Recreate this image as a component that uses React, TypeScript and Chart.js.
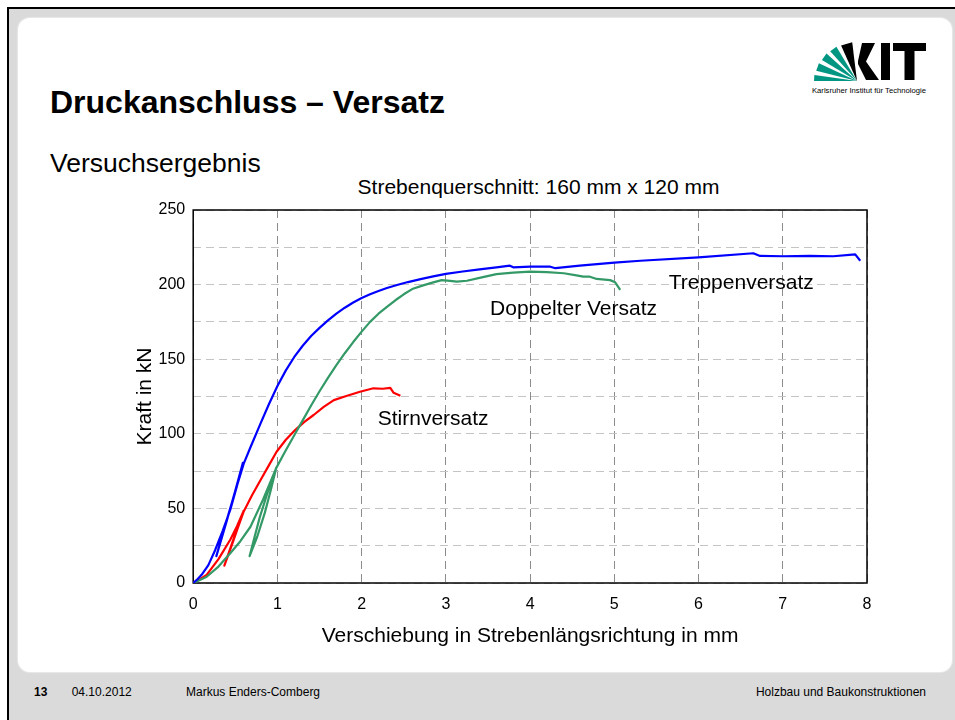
import React, { useEffect, useRef } from 'react';
import { Chart, registerables } from 'chart.js';

Chart.register(...registerables);

// ---------- data ----------
const treppenX = [0, 0.05, 0.1, 0.18, 0.26, 0.35, 0.44, 0.52, 0.59, 0.5, 0.4, 0.275, 0.35, 0.45, 0.53, 0.6, 0.68, 0.8, 0.9, 1.0, 1.1, 1.2, 1.3, 1.4, 1.5, 1.6, 1.7, 1.8, 1.9, 2.0, 2.1, 2.2, 2.3, 2.42, 2.55, 2.7, 2.85, 3.0, 3.2, 3.4, 3.6, 3.76, 3.8, 4.0, 4.24, 4.3, 4.59, 5.0, 5.31, 6.0, 6.65, 6.73, 7.0, 7.32, 7.6, 7.86, 7.92];
const treppenY = [0, 2.5, 5.5, 12, 22, 35, 49, 65, 80.5, 62, 42, 18, 33, 52, 67, 80, 91, 107, 120, 132, 142.5, 151.5, 159, 165.5, 171, 176, 180.5, 184.5, 188, 191, 193.5, 195.7, 197.7, 199.7, 201.7, 203.7, 205.5, 207.2, 208.8, 210.2, 211.6, 212.7, 211.6, 212, 212, 211, 212.7, 214.7, 216, 218.3, 221, 219.2, 219, 219.2, 219, 220.3, 216];

const stirnX = [0, 0.08, 0.16, 0.3, 0.44, 0.52, 0.6, 0.5, 0.37, 0.45, 0.53, 0.6, 0.7, 0.8, 0.9, 0.99, 1.1, 1.21, 1.32, 1.43, 1.55, 1.67, 1.8, 1.98, 2.14, 2.25, 2.34, 2.38, 2.42, 2.46];
const stirnY = [0, 2.5, 5.5, 16, 29, 38, 48.5, 33, 11.6, 24, 37, 48, 59, 69, 79, 88, 96, 102.5, 108, 112.6, 118, 122.6, 125, 128.2, 130.5, 130.2, 130.8, 127.5, 126.5, 125.5];

const doppelX = [0, 0.08, 0.16, 0.3, 0.44, 0.56, 0.68, 0.83, 0.985, 0.92, 0.85, 0.76, 0.67, 0.72, 0.79, 0.88, 0.985, 1.09, 1.2, 1.3, 1.4, 1.5, 1.6, 1.7, 1.8, 1.9, 2.0, 2.1, 2.2, 2.3, 2.4, 2.5, 2.6, 2.73, 2.85, 2.95, 3.05, 3.13, 3.25, 3.4, 3.6, 3.8, 4.0, 4.2, 4.4, 4.55, 4.63, 4.71, 4.79, 4.95, 5.01, 5.07];
const doppelY = [0, 2, 4.2, 11, 20, 28, 37.7, 56, 77, 62, 47, 31, 18, 29, 44, 60, 77, 88, 99, 109, 119, 128.5, 137.5, 146, 154, 161.5, 168.5, 175, 180.5, 185, 189.5, 193.5, 197, 199.5, 201.5, 203, 202.5, 202, 202.6, 204.5, 207, 208, 208.7, 208.4, 207.6, 206.2, 205.3, 205.3, 203.8, 203, 201.5, 196.4];

const seriesNames = ['Treppenversatz', 'Doppelter Versatz', 'Stirnversatz'];
const seriesColors = ['#0000ff', '#339966', '#ff0000'];

const yTickLabels = ['0', '50', '100', '150', '200', '250'];
const xTickLabels = ['0', '1', '2', '3', '4', '5', '6', '7', '8'];

const curveLabelText = ['Treppenversatz', 'Doppelter Versatz', 'Stirnversatz'];
const curveLabelX = [6.507, 4.516, 2.849];
const curveLabelY = [201, 183.6, 109.9];

const FONT = '"Liberation Sans", Arial, Helvetica, sans-serif';

const toPoints = (xs: number[], ys: number[]) => xs.map((x, i) => ({ x, y: ys[i] }));

const framePlugin = {
  id: 'frameBox',
  beforeDatasetsDraw(chart: any) {
    const { ctx, chartArea } = chart;
    const { left, top, right, bottom } = chartArea;
    ctx.save();
    ctx.setLineDash([]);
    ctx.strokeStyle = '#000';
    ctx.lineWidth = 1.5;
    ctx.strokeRect(left, top, right - left, bottom - top);
    ctx.restore();
  },
};

const curveLabelPlugin = {
  id: 'curveLabels',
  afterDatasetsDraw(chart: any) {
    const { ctx } = chart;
    const xs = chart.scales.x;
    const ys = chart.scales.y;
    ctx.save();
    ctx.font = `21px ${FONT}`;
    ctx.fillStyle = '#000';
    ctx.textAlign = 'center';
    ctx.textBaseline = 'middle';
    curveLabelText.forEach((t, i) => {
      ctx.fillText(t, xs.getPixelForValue(curveLabelX[i]), ys.getPixelForValue(curveLabelY[i]));
    });
    ctx.restore();
  },
};

function ChartCanvas() {
  const ref = useRef<HTMLCanvasElement | null>(null);
  useEffect(() => {
    if (!ref.current) return;
    Chart.defaults.font.family = FONT;
    const datasets = [
      { label: seriesNames[0], data: toPoints(treppenX, treppenY), borderColor: seriesColors[0] },
      { label: seriesNames[1], data: toPoints(doppelX, doppelY), borderColor: seriesColors[1] },
      { label: seriesNames[2], data: toPoints(stirnX, stirnY), borderColor: seriesColors[2] },
    ].map((d) => ({
      ...d,
      showLine: true,
      pointRadius: 0,
      borderWidth: 2.2,
      tension: 0,
      fill: false,
      backgroundColor: d.borderColor,
      borderJoinStyle: 'round',
    }));
    const chart = new Chart(ref.current, {
      type: 'scatter',
      data: { datasets },
      options: {
        responsive: false,
        maintainAspectRatio: false,
        animation: false,
        devicePixelRatio: 1,
        layout: { padding: { left: 134.5, top: 210, right: 88, bottom: 72.8 } },
        plugins: {
          legend: { display: false },
          tooltip: { enabled: false },
          title: { display: false },
        },
        scales: {
          x: {
            type: 'linear',
            min: 0,
            max: 8,
            ticks: {
              stepSize: 1,
              padding: 12,
              color: '#000',
              font: { size: 16, family: FONT },
              callback: (v: any) => xTickLabels[Math.round(Number(v))] ?? '',
            },
            grid: { color: '#8c8c8c', lineWidth: 1, drawTicks: false },
            border: { display: false, dash: [8, 5] },
            title: {
              display: true,
              text: 'Verschiebung in Strebenlängsrichtung in mm',
              color: '#000',
              font: { size: 21, family: FONT, lineHeight: 1 },
              padding: { top: 0, bottom: 0 },
            },
          },
          y: {
            type: 'linear',
            min: 0,
            max: 250,
            ticks: {
              stepSize: 25,
              padding: 8,
              autoSkip: false,
              color: '#000',
              font: { size: 16, family: FONT },
              callback: (v: any) => {
                const n = Number(v);
                return n % 50 === 0 ? yTickLabels[n / 50] : '';
              },
            },
            grid: { color: '#c4c4c4', lineWidth: 1, drawTicks: false },
            border: { display: false, dash: [8, 5] },
            title: {
              display: true,
              text: 'Kraft in kN',
              color: '#000',
              font: { size: 21, family: FONT, lineHeight: 1 },
              padding: { top: 0, bottom: -5 },
            },
          },
        },
      },
      plugins: [framePlugin, curveLabelPlugin],
    } as any);
    return () => chart.destroy();
  }, []);
  return (
    <canvas
      ref={ref}
      width={955}
      height={720}
      style={{ position: 'absolute', left: 0, top: 0, width: 955, height: 720 }}
    />
  );
}

function KitLogo() {
  const cx = 857;
  const cy = 81;
  const wedge = (a1: number, a2: number, r: number) => {
    const p = (a: number) => {
      const rad = (a * Math.PI) / 180;
      return `${(cx + r * Math.cos(rad)).toFixed(1)},${(cy - r * Math.sin(rad)).toFixed(1)}`;
    };
    return `${cx},${cy} ${p(a1)} ${p(a2)}`;
  };
  const green = '#009682';
  return (
    <g>
      <polygon points={wedge(172, 180, 43)} fill={green} />
      <polygon points={wedge(155, 166, 42)} fill={green} />
      <polygon points={wedge(138, 149, 41)} fill={green} />
      <polygon points={wedge(121, 132, 40)} fill={green} />
      <polygon points={wedge(97, 114, 39)} fill="#000" />
      <polygon points="862,43 875,43 866,61.5 879,80 866,80 858,64 858,61" fill="#000" />
      <rect x={881} y={43} width={9} height={37} fill="#000" />
      <rect x={893} y={43} width={33} height={8} fill="#000" />
      <rect x={904.5} y={43} width={10} height={37} fill="#000" />
      <text x={812} y={92.5} fontSize={6.5} fontFamily={FONT} fill="#000" textLength={114} lengthAdjust="spacingAndGlyphs">
        Karlsruher Institut für Technologie
      </text>
    </g>
  );
}

export default function App() {
  return (
    <div
      style={{
        position: 'fixed',
        left: 0,
        top: 0,
        width: 955,
        height: 720,
        overflow: 'hidden',
        background: '#fff',
        fontFamily: FONT,
      }}
    >
      <div
        style={{
          position: 'absolute',
          left: 7,
          top: 7,
          width: 960,
          height: 720,
          background: '#dadada',
          borderLeft: '2px solid #000',
          borderTop: '2px solid #000',
        }}
      />
      <div
        style={{
          position: 'absolute',
          left: 18,
          top: 18,
          width: 934,
          height: 654,
          background: '#fff',
          borderRadius: 12,
          boxShadow: '0 0 1px 1px #e8e8e8',
        }}
      />
      <svg
        width={955}
        height={720}
        style={{ position: 'absolute', left: 0, top: 0 }}
        xmlns="http://www.w3.org/2000/svg"
      >
        <KitLogo />
        <text x={50} y={113} fontSize={32} fontWeight="bold" fontFamily={FONT} fill="#000">
          Druckanschluss – Versatz
        </text>
        <text x={50} y={171.5} fontSize={26.5} fontFamily={FONT} fill="#000">
          Versuchsergebnis
        </text>
        <text x={538.5} y={193.5} fontSize={21} fontFamily={FONT} fill="#000" textAnchor="middle">
          Strebenquerschnitt: 160 mm x 120 mm
        </text>
        <text x={34} y={696.3} fontSize={12} fontWeight="bold" fontFamily={FONT} fill="#000">
          13
        </text>
        <text x={71.7} y={696.3} fontSize={12} fontFamily={FONT} fill="#000">
          04.10.2012
        </text>
        <text x={186} y={696.3} fontSize={12} fontFamily={FONT} fill="#000">
          Markus Enders-Comberg
        </text>
        <text x={926} y={696.3} fontSize={12} fontFamily={FONT} fill="#000" textAnchor="end">
          Holzbau und Baukonstruktionen
        </text>
      </svg>
      <ChartCanvas />
    </div>
  );
}
